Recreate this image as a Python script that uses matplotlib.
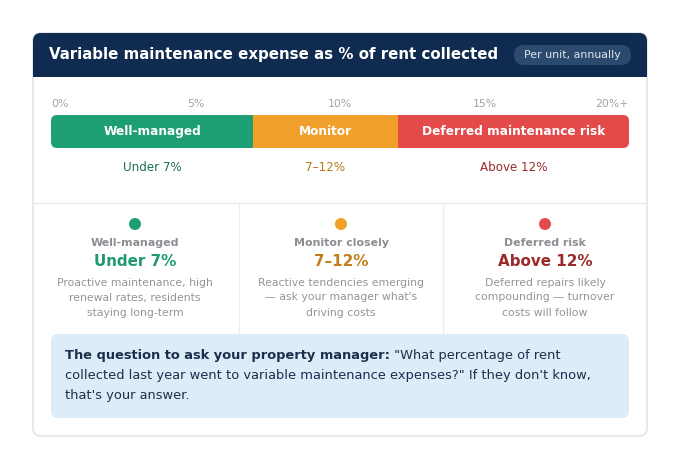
import matplotlib
matplotlib.use("Agg")
import matplotlib.pyplot as plt
from matplotlib.patches import FancyBboxPatch, Circle, Rectangle

plt.rcParams["font.family"] = ["DejaVu Sans"]

# ---- data ----
title = "Variable maintenance expense as % of rent collected"
badge = "Per unit, annually"
scale_ticks = [0, 5, 10, 15, 20]
scale_labels = ["0%", "5%", "10%", "15%", "20%+"]
band_starts = [0, 7, 12]
band_ends = [7, 12, 20]
band_names = ["Well-managed", "Monitor", "Deferred maintenance risk"]
band_ranges = ["Under 7%", "7\u201312%", "Above 12%"]
tier_titles = ["Well-managed", "Monitor closely", "Deferred risk"]
tier_values = ["Under 7%", "7\u201312%", "Above 12%"]
tier_notes = [
    ["Proactive maintenance, high", "renewal rates, residents", "staying long-term"],
    ["Reactive tendencies emerging", "\u2014 ask your manager what's", "driving costs"],
    ["Deferred repairs likely", "compounding \u2014 turnover", "costs will follow"],
]
callout_bold = "The question to ask your property manager:"
callout_lines = [
    ' "What percentage of rent',
    "collected last year went to variable maintenance expenses?\" If they don't know,",
    "that's your answer.",
]

band_colors = ["#1e9e74", "#f0a02a", "#e24b4a"]
range_colors = ["#1f6e50", "#b57a1c", "#9b2a2a"]
value_colors = ["#1e9a6e", "#c07f1a", "#9b2a2a"]
navy = "#0f2b4f"

W, H = 680, 469
fig = plt.figure(figsize=(W / 100, H / 100), dpi=100)
fig.patch.set_facecolor("white")
ax = fig.add_axes([0, 0, 1, 1])
ax.set_xlim(0, W)
ax.set_ylim(H, 0)
ax.axis("off")

# card
cx0, cy0, cx1, cy1 = 33, 33, 647, 436
ax.add_patch(FancyBboxPatch((cx0, cy0), cx1 - cx0, cy1 - cy0,
                            boxstyle="round,pad=0,rounding_size=8",
                            fc="white", ec="#dcdfe3", lw=1, zorder=1))
# header
ax.add_patch(FancyBboxPatch((cx0, cy0), cx1 - cx0, 44,
                            boxstyle="round,pad=0,rounding_size=8",
                            fc=navy, ec="none", zorder=2))
ax.add_patch(Rectangle((cx0, cy0 + 20), cx1 - cx0, 24, fc=navy, ec="none", zorder=2))
ax.text(49, 55, title, color="white", fontsize=10.85, fontweight="bold",
        va="center", ha="left", zorder=3)
ax.add_patch(FancyBboxPatch((514, 45), 117, 20,
                            boxstyle="round,pad=0,rounding_size=10",
                            fc="#2c4a6e", ec="none", zorder=3))
ax.text(572.5, 55.5, badge, color="#dfe6ee", fontsize=7.9, va="center",
        ha="center", zorder=4)

# scale bar
bx0, bx1, by0, by1 = 51, 629, 115, 148
for t, lab in zip(scale_ticks, scale_labels):
    px = bx0 + (bx1 - bx0) * t / 20
    ha = "left" if t == 0 else ("right" if t == 20 else "center")
    ax.text(px, 104, lab, color="#a0a4a8", fontsize=7.8, ha=ha, va="center")

bax = fig.add_axes([bx0 / W, 1 - by1 / H, (bx1 - bx0) / W, (by1 - by0) / H])
bax.set_xlim(0, 20)
bax.set_ylim(0, 1)
bax.axis("off")
bars = bax.barh([0.5] * 3, [e - s for s, e in zip(band_starts, band_ends)],
                left=band_starts, height=1.0, color=band_colors, lw=0)
clip = FancyBboxPatch((bx0, by0), bx1 - bx0, by1 - by0,
                      boxstyle="round,pad=0,rounding_size=6",
                      transform=ax.transData, fc="none", ec="none")
ax.add_patch(clip)
for b in bars:
    b.set_clip_path(clip)
for s, e, name, rng, rc in zip(band_starts, band_ends, band_names, band_ranges, range_colors):
    bax.text((s + e) / 2, 0.5, name, color="white", fontsize=8.7,
             fontweight="bold", ha="center", va="center")
    px = bx0 + (bx1 - bx0) * (s + e) / 40
    ax.text(px, 167.5, rng, color=rc, fontsize=8.6, ha="center", va="center")

# divider
ax.plot([cx0 + 0.5, cx1 - 0.5], [203.5, 203.5], color="#e8eaed", lw=1, zorder=2)
for dx in [238.5, 442.5]:
    ax.plot([dx, dx], [204, 333], color="#eceef0", lw=1, zorder=2)

# tiers
col_centers = [135, 341, 545]
for i, xc in enumerate(col_centers):
    ax.add_patch(Circle((xc, 224), 6, fc=band_colors[i], ec="none", zorder=3))
    ax.text(xc, 243, tier_titles[i], color="#8a8d91", fontsize=7.9,
            fontweight="bold", ha="center", va="center")
    ax.text(xc, 262, tier_values[i], color=value_colors[i], fontsize=10.9,
            fontweight="bold", ha="center", va="center")
    for j, line in enumerate(tier_notes[i]):
        ax.text(xc, 282.5 + 15 * j, line, color="#929598", fontsize=7.8,
                ha="center", va="center")

# callout
ax.add_patch(FancyBboxPatch((51, 334), 578, 84,
                            boxstyle="round,pad=0,rounding_size=7",
                            fc="#dcecf9", ec="none", zorder=2))
tc = "#1c2f4a"
tb = ax.text(65, 355.5, callout_bold, color=tc, fontsize=9.35, fontweight="bold",
             ha="left", va="center", zorder=3)
fig.canvas.draw()
bb = tb.get_window_extent(fig.canvas.get_renderer())
bx_end = ax.transData.inverted().transform((bb.x1, bb.y0))[0]
ax.text(bx_end, 355.5, callout_lines[0], color=tc, fontsize=9.35,
        ha="left", va="center", zorder=3)
for j, line in enumerate(callout_lines[1:]):
    ax.text(65, 375.5 + 20 * j, line, color=tc, fontsize=9.35,
            ha="left", va="center", zorder=3)

fig.savefig("out.png", dpi=100, facecolor="white")
